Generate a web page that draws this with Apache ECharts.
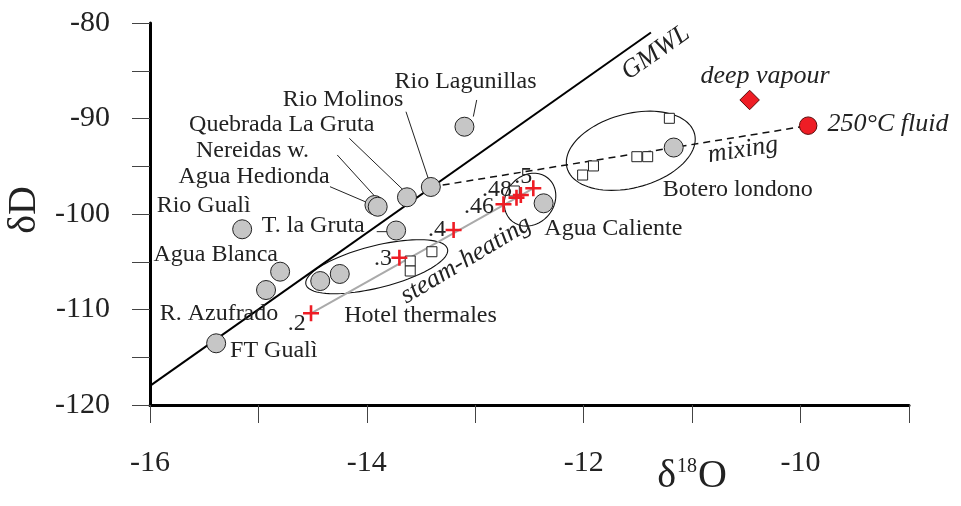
<!DOCTYPE html>
<html><head><meta charset="utf-8">
<script src="https://cdn.jsdelivr.net/npm/echarts@6/dist/echarts.min.js"></script>
<style>html,body{margin:0;padding:0;background:#fff}#c{width:961px;height:506px}</style>
</head><body><div id="c"></div>
<script>
// ---- tick labels ----
const xTickLabels = [-16, -14, -12, -10];
const yTickLabels = [-120, -110, -100, -90, -80];

// ---- data: [δ18O, δD] ----
const springs = [              // grey circles
  [-13.10, -90.86],  // Rio Lagunillas
  [-13.41, -97.17],  // Rio Molinos
  [-13.63, -98.25],  // Quebrada La Gruta
  [-13.93, -99.06],  // Nereidas w.
  [-13.90, -99.24],  // Agua Hedionda
  [-15.15, -101.60], // Rio Gualì
  [-13.73, -101.73], // T. la Gruta
  [-14.80, -106.04], // Agua Blanca
  [-14.93, -107.96], // R. Azufrado
  [-14.25, -106.28], // Hotel thermales
  [-14.43, -107.02], // Hotel thermales
  [-15.39, -113.54], // FT Gualì
  [-12.37, -98.88],  // Agua Caliente
  [-11.17, -93.04]   // Botero londono
];
const squares = [
  [-13.40, -103.95], [-13.60, -104.92], [-13.60, -105.97],
  [-12.64, -97.59],
  [-11.21, -89.98], [-11.51, -94.00], [-11.41, -94.00],
  [-11.91, -94.97], [-12.01, -95.92]
];
const steamModel = [   // red crosses, steam fraction model
  [-14.515, -110.40], [-13.70, -104.58], [-13.20, -101.68],
  [-12.74, -98.98], [-12.62, -98.29], [-12.58, -98.01], [-12.465, -97.31]
];
const deepVapour = [[-10.47, -88.06]];
const fluid250 = [[-9.93, -90.75]];
const gmwlLine = [[-16, -118], [-11.38, -81.0]];
const mixingLine = [[-13.41, -97.17], [-9.93, -90.75]];
const steamLine = [[-14.515, -110.40], [-12.465, -97.31]];

// group ellipses: centre, semi-axis vectors (data units)
const ellipseCentres = [[-13.909, -105.52], [-12.495, -98.50], [-11.566, -93.38]];
const ellipseAxisA = [[0.653, 1.853], [0.166, 2.246], [0.588, 1.788]];
const ellipseAxisB = [[0.047, -2.136], [0.170, -1.616], [0.088, -3.742]];

// text annotations (data coords of text centre)
const labelTexts = ['Rio Lagunillas', 'Rio Molinos', 'Quebrada La Gruta', 'Nereidas w.', 'Agua Hedionda',
  'Rio Gualì', 'T. la Gruta', 'Agua Blanca', 'R. Azufrado', 'FT Gualì', 'Hotel thermales',
  'Agua Caliente', 'Botero londono', '.2', '.3', '.4', '.46', '.48', '.5'];
const labelPos = [[-13.09, -86.15], [-14.22, -88.06], [-14.785, -90.68], [-15.055, -93.37], [-15.04, -96.09],
  [-15.505, -99.16], [-14.494, -101.23], [-15.394, -104.29], [-15.364, -110.40], [-14.859, -114.31], [-13.505, -110.68],
  [-11.727, -101.50], [-10.579, -97.41], [-14.647, -111.45], [-13.851, -104.64], [-13.353, -101.60], [-12.966, -99.24],
  [-12.80, -97.49], [-12.557, -96.13]];
const italicTexts = ['deep vapour', '250°C fluid', 'mixing', 'steam-heating', 'GMWL'];
const italicPos = [[-10.328, -85.62], [-9.194, -90.58], [-10.531, -93.30], [-13.086, -104.82], [-11.336, -83.11]];
const italicRot = [0, 0, 9, 31, 35];

const leaderLines = [
  [-12.987, -88.06, -13.018, -89.80],
  [-13.639, -89.29, -13.409, -97.12],
  [-14.162, -92.07, -13.664, -97.49],
  [-14.273, -93.82, -13.879, -98.74],
  [-14.340, -97.14, -13.987, -98.85],
  [-13.909, -101.85, -13.805, -101.85]
];

const SERIF = '"Liberation Serif", "DejaVu Serif", serif';
const RED = '#ee1d25';

const chart = echarts.init(document.getElementById('c'), null, {renderer: 'canvas'});
const option = {
  animation: false,
  backgroundColor: '#fff',
  grid: {left: 150, right: 52, top: 23, bottom: 101, containLabel: false, outerBoundsMode: 'none'},
  xAxis: {
    type: 'value', min: -16, max: -9, interval: 1,
    axisLine: {show: true, onZero: false, lineStyle: {color: '#000', width: 3}},
    axisTick: {show: true, length: 18, lineStyle: {color: '#444', width: 1}},
    splitLine: {show: false},
    axisLabel: {formatter: v => xTickLabels.includes(v) ? String(v) : '', fontFamily: SERIF, fontSize: 30, color: '#222', margin: 43}
  },
  yAxis: {
    type: 'value', min: -120, max: -80, interval: 5,
    axisLine: {show: true, onZero: false, lineStyle: {color: '#000', width: 3}},
    axisTick: {show: true, length: 18, lineStyle: {color: '#444', width: 1}},
    splitLine: {show: false},
    axisLabel: {formatter: v => yTickLabels.includes(v) ? String(v) : '', fontFamily: SERIF, fontSize: 30, color: '#222', margin: 40}
  },
  graphic: [
    {type: 'text', x: 24, y: 210, rotation: Math.PI / 2,
      style: {text: 'δD', font: '40px ' + SERIF, fill: '#222', align: 'center', verticalAlign: 'middle'}},
    {type: 'text', x: 692, y: 476,
      style: {text: '{a|δ}{b|18}{a|O}', fill: '#222', align: 'center', verticalAlign: 'middle',
        rich: {a: {font: '40px ' + SERIF, fill: '#222'}, b: {font: '20px ' + SERIF, fill: '#222', padding: [0, 1, 18, 1]}}}}
  ],
  series: [
    {type: 'line', data: gmwlLine, showSymbol: false, silent: true, z: 2,
      lineStyle: {color: '#000', width: 2}},
    {type: 'line', data: steamLine, showSymbol: false, silent: true, z: 2,
      lineStyle: {color: '#aaa', width: 2}},
    {type: 'line', data: mixingLine, showSymbol: false, silent: true, z: 2,
      lineStyle: {color: '#111', width: 1.5, type: [7, 5]}},
    {type: 'custom', silent: true, z: 2, clip: false,
      data: ellipseCentres,
      renderItem(params, api) {
        const i = params.dataIndex, c = ellipseCentres[i], a = ellipseAxisA[i], b = ellipseAxisB[i];
        const pts = [];
        for (let k = 0; k < 90; k++) {
          const t = k / 90 * Math.PI * 2;
          pts.push(api.coord([c[0] + a[0] * Math.cos(t) + b[0] * Math.sin(t), c[1] + a[1] * Math.cos(t) + b[1] * Math.sin(t)]));
        }
        return {type: 'polygon', shape: {points: pts}, style: {fill: 'none', stroke: '#111', lineWidth: 1.1}};
      }},
    {type: 'custom', silent: true, z: 2, clip: false,
      data: leaderLines.map(l => [l[0], l[1]]),
      renderItem(params, api) {
        const l = leaderLines[params.dataIndex];
        const p1 = api.coord([l[0], l[1]]), p2 = api.coord([l[2], l[3]]);
        return {type: 'line', shape: {x1: p1[0], y1: p1[1], x2: p2[0], y2: p2[1]}, style: {stroke: '#222', lineWidth: 1}};
      }},
    {type: 'scatter', data: springs, symbol: 'circle', symbolSize: 19, silent: true, z: 3,
      itemStyle: {color: '#c6c6c6', borderColor: '#222', borderWidth: 1, opacity: 1}},
    {type: 'scatter', data: squares, symbol: 'rect', symbolSize: 10, silent: true, z: 4,
      itemStyle: {color: '#fff', borderColor: '#222', borderWidth: 1, opacity: 1}},
    {type: 'scatter', data: steamModel, silent: true, z: 5,
      symbol: 'path://M6.7,0H9.3V6.7H16V9.3H9.3V16H6.7V9.3H0V6.7H6.7Z', symbolSize: 16,
      itemStyle: {color: RED, opacity: 1}},
    {type: 'scatter', data: deepVapour, symbol: 'diamond', symbolSize: 19.5, silent: true, z: 5,
      itemStyle: {color: RED, borderColor: '#5a0a0a', borderWidth: 1, opacity: 1}},
    {type: 'scatter', data: fluid250, symbol: 'circle', symbolSize: 17.5, silent: true, z: 5,
      itemStyle: {color: RED, borderColor: '#5a0a0a', borderWidth: 1, opacity: 1}},
    {type: 'custom', silent: true, z: 6, clip: false,
      data: labelPos,
      renderItem(params, api) {
        const i = params.dataIndex, p = api.coord(labelPos[i]);
        return {type: 'text', x: p[0], y: p[1],
          style: {text: labelTexts[i], font: '24px ' + SERIF, fill: '#222', align: 'center', verticalAlign: 'middle'}};
      }},
    {type: 'custom', silent: true, z: 6, clip: false,
      data: italicPos,
      renderItem(params, api) {
        const i = params.dataIndex, p = api.coord(italicPos[i]);
        return {type: 'text', x: p[0], y: p[1], rotation: italicRot[i] * Math.PI / 180,
          style: {text: italicTexts[i], font: 'italic 26px ' + SERIF, fill: '#222', align: 'center', verticalAlign: 'middle'}};
      }}
  ]
};
chart.setOption(option);
</script></body></html>
